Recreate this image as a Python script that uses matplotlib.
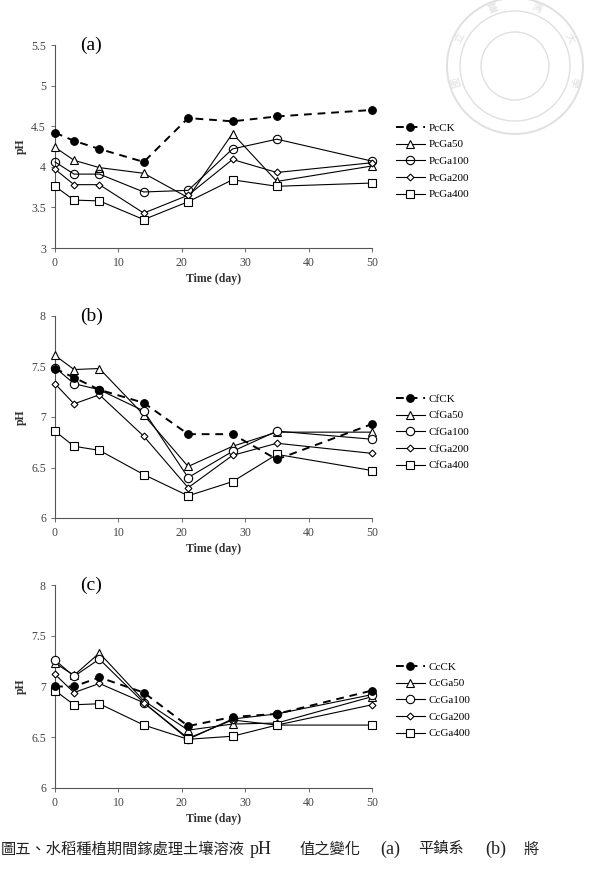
import matplotlib
matplotlib.use("Agg")
import matplotlib.pyplot as plt
from matplotlib.patches import Circle
import numpy as np

days = [0, 3, 7, 14, 21, 28, 35, 50]

# Panel (a) Pc soil
pc_labels = ["PcCK", "PcGa50", "PcGa100", "PcGa200", "PcGa400"]
pc_ck = [4.42, 4.32, 4.22, 4.06, 4.60, 4.56, 4.62, 4.70]
pc_ga50 = [4.24, 4.08, 3.99, 3.92, 3.62, 4.41, 3.82, 4.01]
pc_ga100 = [4.06, 3.91, 3.91, 3.69, 3.71, 4.22, 4.34, 4.07]
pc_ga200 = [3.97, 3.78, 3.78, 3.43, 3.65, 4.09, 3.93, 4.05]
pc_ga400 = [3.76, 3.59, 3.58, 3.35, 3.57, 3.84, 3.76, 3.80]

# Panel (b) Cf soil
cf_labels = ["CfCK", "CfGa50", "CfGa100", "CfGa200", "CfGa400"]
cf_ck = [7.48, 7.39, 7.27, 7.14, 6.83, 6.83, 6.58, 6.93]
cf_ga50 = [7.61, 7.47, 7.48, 7.02, 6.51, 6.71, 6.85, 6.85]
cf_ga100 = [7.49, 7.33, 7.27, 7.06, 6.40, 6.66, 6.86, 6.78]
cf_ga200 = [7.33, 7.13, 7.22, 6.81, 6.30, 6.62, 6.74, 6.64]
cf_ga400 = [6.86, 6.71, 6.67, 6.43, 6.22, 6.36, 6.63, 6.47]

# Panel (c) Cc soil
cc_labels = ["CcCK", "CcGa50", "CcGa100", "CcGa200", "CcGa400"]
cc_ck = [7.00, 7.00, 7.09, 6.94, 6.61, 6.70, 6.73, 6.96]
cc_ga50 = [7.23, 7.11, 7.33, 6.86, 6.57, 6.63, 6.64, 6.90]
cc_ga100 = [7.26, 7.10, 7.27, 6.84, 6.48, 6.68, 6.73, 6.92]
cc_ga200 = [7.12, 6.94, 7.03, 6.84, 6.49, 6.67, 6.62, 6.82]
cc_ga400 = [6.96, 6.82, 6.83, 6.62, 6.48, 6.51, 6.62, 6.62]

panels = [
    ("(a)", pc_labels, [pc_ck, pc_ga50, pc_ga100, pc_ga200, pc_ga400], (3, 5.5), [3, 3.5, 4, 4.5, 5, 5.5], ["3", "3.5", "4", "4.5", "5", "5.5"]),
    ("(b)", cf_labels, [cf_ck, cf_ga50, cf_ga100, cf_ga200, cf_ga400], (6, 8), [6, 6.5, 7, 7.5, 8], ["6", "6.5", "7", "7.5", "8"]),
    ("(c)", cc_labels, [cc_ck, cc_ga50, cc_ga100, cc_ga200, cc_ga400], (6, 8), [6, 6.5, 7, 7.5, 8], ["6", "6.5", "7", "7.5", "8"]),
]
x_ticks = [0, 10, 20, 30, 40, 50]

caption_parts = ["圖五、水稻種植期間鎵處理土壤溶液", "pH", "值之變化", "(a)", "平鎮系", "(b)", "將"]

W, H = 594, 889
fig = plt.figure(figsize=(W / 100, H / 100), dpi=100)
serif = "Liberation Serif"
cjk = ["Noto Sans CJK TC", "DejaVu Sans"]

# faint watermark (university seal), drawn in inches so circles stay round
wm_color = "#e0e0e0"
cx, cy = 5.15, (H - 66) / 100
for r, lw in ((0.68, 1.4), (0.55, 1.0), (0.34, 1.0)):
    fig.patches.append(Circle((cx, cy), r, transform=fig.dpi_scale_trans,
                              fill=False, edgecolor=wm_color, linewidth=lw))
wm_chars = "國立臺灣大學"
angs = np.linspace(195, -15, len(wm_chars))
for ch, a in zip(wm_chars, angs):
    rad = np.deg2rad(a)
    fig.text(cx + 0.615 * np.cos(rad), cy + 0.615 * np.sin(rad), ch,
             transform=fig.dpi_scale_trans, fontsize=7.5, color=wm_color,
             ha="center", va="center", family=cjk, rotation=a - 90)

ax_boxes = [(45, 248), (316, 518), (585, 788)]
legend_tops = [123, 394, 662]

styles = [
    dict(marker="o", ls=(0, (4, 3)), lw=1.4, mfc="black", mec="black", ms=5.5),
    dict(marker="^", ls="-", lw=0.8, mfc="white", mec="black", ms=5.5),
    dict(marker="o", ls="-", lw=0.8, mfc="white", mec="black", ms=6),
    dict(marker="D", ls="-", lw=0.8, mfc="white", mec="black", ms=3.5),
    dict(marker="s", ls="-", lw=0.8, mfc="white", mec="black", ms=6),
]

for i, (tag, labels, series, ylim, yt, ytl) in enumerate(panels):
    top, bot = ax_boxes[i]
    ax = fig.add_axes([55 / W, 1 - bot / H, 317 / W, (bot - top) / H])
    handles = []
    for j, (lab, vals) in enumerate(zip(labels, series)):
        st = dict(styles[j])
        if i == 0 and j == 2:
            st["mfc"] = "none"
        ln, = ax.plot(days, vals, color="black", label=lab, mew=0.8,
                      zorder=3 if j else 4, clip_on=False, **st)
        handles.append(ln)
    ax.set_xlim(0, 50)
    ax.set_ylim(*ylim)
    ax.set_xticks(x_ticks)
    ax.set_xticklabels([str(t) for t in x_ticks])
    ax.set_yticks(yt)
    ax.set_yticklabels(ytl)
    for s in ("top", "right"):
        ax.spines[s].set_visible(False)
    for s in ("left", "bottom"):
        ax.spines[s].set_color("#555555")
        ax.spines[s].set_linewidth(0.8)
    ax.tick_params(direction="out", length=3, width=0.6, color="#555555",
                   labelsize=8.5, labelcolor="#444444")
    for lbl in ax.get_xticklabels() + ax.get_yticklabels():
        lbl.set_family(serif)
    ax.set_xlabel("Time (day)", fontsize=8.5, fontweight="bold", family=serif,
                  color="#333333", labelpad=3)
    ax.set_ylabel("pH", fontsize=8.5, fontweight="bold", family=serif,
                  color="#333333", labelpad=3)
    ax.text(0.08, 1.0, tag, transform=ax.transAxes, fontsize=14, family=serif,
            ha="left", va="center")
    fig.legend(handles=handles, loc="upper left",
               bbox_to_anchor=(396 / W, 1 - legend_tops[i] / H),
               bbox_transform=fig.transFigure, frameon=False,
               prop={"family": serif, "size": 8}, handlelength=2.6,
               handletextpad=0.3, labelspacing=0.62, borderpad=0,
               borderaxespad=0)

# caption, placed as separate pieces like the typeset original
cap_x = [1, 250, 300, 380, 418, 485, 524]
cap_y = 1 - 849 / H
for txt, xp in zip(caption_parts, cap_x):
    if txt.startswith("(") or txt == "pH":
        fig.text(xp / W, cap_y, txt, fontsize=13, family=serif, ha="left",
                 va="center", color="#222222")
    else:
        fig.text(xp / W, cap_y, txt, fontsize=11, family=cjk, ha="left",
                 va="center", color="#222222")

fig.savefig("out.png", dpi=100)
